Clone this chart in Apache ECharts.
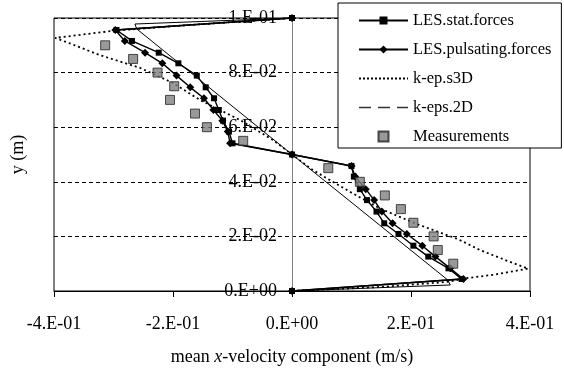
<!DOCTYPE html>
<html>
<head>
<meta charset="utf-8">
<script src="https://cdn.jsdelivr.net/npm/echarts@6/dist/echarts.min.js"></script>
<style>html,body{margin:0;padding:0;background:#fff;}#c{width:564px;height:370px;}</style>
</head>
<body>
<div id="c"></div>
<script>
// ---- data (u = mean x-velocity in m/s, y in m) ----
var lesStatY = [0, 0.0044, 0.0083, 0.0126, 0.0166, 0.0209, 0.0248, 0.0291, 0.0333, 0.0373, 0.0419, 0.0458, 0.05, 0.0541, 0.0584, 0.0624, 0.0663, 0.0706, 0.0746, 0.0789, 0.0834, 0.0873, 0.0916, 0.0956, 0.1];
var lesStatU = [0, 0.285, 0.263, 0.229, 0.204, 0.179, 0.155, 0.142, 0.126, 0.114, 0.104, 0.100, 0, -0.100, -0.106, -0.116, -0.123, -0.131, -0.145, -0.160, -0.191, -0.224, -0.269, -0.295, 0];

var lesPulsY = [0, 0.0044, 0.0083, 0.0126, 0.0166, 0.0209, 0.0248, 0.0291, 0.0333, 0.0373, 0.0419, 0.0458, 0.05, 0.0541, 0.0584, 0.0624, 0.0663, 0.0706, 0.0746, 0.0789, 0.0834, 0.0873, 0.0916, 0.0956, 0.1];
var lesPulsU = [0, 0.288, 0.266, 0.241, 0.219, 0.193, 0.169, 0.151, 0.138, 0.124, 0.106, 0.100, 0, -0.104, -0.108, -0.117, -0.132, -0.148, -0.171, -0.194, -0.218, -0.247, -0.281, -0.297, 0];

var kep3dY = [0, 0.0015, 0.0033, 0.0046, 0.006, 0.0082, 0.0107, 0.015, 0.019, 0.0245, 0.030, 0.036, 0.0443, 0.05, 0.0553, 0.0626, 0.070, 0.0762, 0.0817, 0.0864, 0.090, 0.0927, 0.0952, 0.097, 0.0985, 0.1];
var kep3dU = [0, 0.15, 0.26, 0.29, 0.34, 0.397, 0.366, 0.316, 0.279, 0.21, 0.15, 0.10, 0.035, 0, -0.032, -0.087, -0.155, -0.200, -0.255, -0.323, -0.365, -0.398, -0.305, -0.2, -0.1, 0];

var keps2dY = [0, 0.0022, 0.0040, 0.05, 0.0960, 0.0978, 0.1];
var keps2dU = [0, 0.266, 0.262, 0, -0.261, -0.264, 0];

var measY = [0.01, 0.015, 0.02, 0.025, 0.03, 0.035, 0.04, 0.045, 0.055, 0.06, 0.065, 0.07, 0.075, 0.08, 0.085, 0.09];
var measU = [0.271, 0.245, 0.238, 0.204, 0.183, 0.156, 0.114, 0.061, -0.082, -0.143, -0.163, -0.205, -0.198, -0.226, -0.267, -0.314];

var xTickLabels = ['-4.E-01', '-2.E-01', '0.E+00', '2.E-01', '4.E-01'];
var yTickLabels = ['0.E+00', '2.E-02', '4.E-02', '6.E-02', '8.E-02', '1.E-01'];

var seriesNames = ['LES.stat.forces', 'LES.pulsating.forces', 'k-ep.s3D', 'k-eps.2D', 'Measurements'];

function zip(us, ys) { var out = []; for (var i = 0; i < us.length; i++) out.push([us[i], ys[i]]); return out; }

var FONT = 'Liberation Serif';
var chart = echarts.init(document.getElementById('c'), null, {renderer: 'canvas'});
chart.setOption({
  animation: false,
  backgroundColor: '#fff',
  grid: {left: 54, right: 34, top: 18, bottom: 79, show: true, borderColor: '#000', borderWidth: 1,
    outerBoundsMode: 'none', containLabel: false},
  legend: {
    orient: 'vertical', left: 338, top: 3,
    padding: [9, 10, 3, 20], itemGap: 12, itemWidth: 49, itemHeight: 10,
    backgroundColor: '#fff', borderColor: '#000', borderWidth: 1,
    textStyle: {fontFamily: FONT, fontSize: 16.5, color: '#000'},
    data: [
      {name: seriesNames[0]},
      {name: seriesNames[1]},
      {name: seriesNames[2], itemStyle: {opacity: 0}, lineStyle: {type: [2, 2], color: '#000', width: 2}},
      {name: seriesNames[3], itemStyle: {opacity: 0}, lineStyle: {type: [12, 7], color: '#333', width: 1.3}},
      {name: seriesNames[4], icon: 'path://M0,0L10,0L10,10L0,10Z'}
    ]
  },
  xAxis: [{
    type: 'value', min: -0.4, max: 0.4, interval: 0.2,
    axisLine: {onZero: false, lineStyle: {color: '#000', width: 1}},
    axisTick: {show: true, length: 6, lineStyle: {color: '#000'}},
    axisLabel: {margin: 24, fontFamily: FONT, fontSize: 18, color: '#000',
      formatter: function (v) { return xTickLabels[Math.round((v + 0.4) / 0.2)]; }},
    splitLine: {show: false},
    name: 'mean {i|x}-velocity component (m/s)', nameLocation: 'middle', nameGap: 57,
    nameTextStyle: {fontFamily: FONT, fontSize: 18, color: '#000',
      rich: {i: {fontFamily: FONT, fontSize: 18, fontStyle: 'italic', color: '#000'}}}
  }],
  yAxis: [{
    type: 'value', min: 0, max: 0.1, interval: 0.02, position: 'left', offset: -238,
    axisLine: {onZero: false, lineStyle: {color: '#808080', width: 1}},
    axisTick: {show: false},
    axisLabel: {margin: 15, padding: [5, 0, 0, 0], fontFamily: FONT, fontSize: 18, color: '#000',
      formatter: function (v) { return yTickLabels[Math.round(v / 0.02)]; }},
    splitLine: {show: true, lineStyle: {color: '#000', type: [4, 3], width: 1}}
  }, {
    type: 'value', min: 0, max: 0.1, position: 'left',
    axisLine: {show: false, onZero: false}, axisTick: {show: false}, axisLabel: {show: false}, splitLine: {show: false},
    name: 'y (m)', nameLocation: 'middle', nameGap: 27,
    nameTextStyle: {fontFamily: FONT, fontSize: 18, color: '#000'}
  }],
  series: [
    {name: seriesNames[3], type: 'line', data: zip(keps2dU, keps2dY), showSymbol: false, symbol: 'none',
      itemStyle: {color: '#000'}, lineStyle: {color: '#000', width: 1}, z: 2},
    {name: seriesNames[2], type: 'line', data: zip(kep3dU, kep3dY), showSymbol: false, symbol: 'none',
      itemStyle: {color: '#000'}, lineStyle: {color: '#000', width: 1.8, type: [2, 3]}, z: 2},
    {name: seriesNames[0], type: 'line', data: zip(lesStatU, lesStatY), symbol: 'rect', symbolSize: 6,
      itemStyle: {color: '#000'}, lineStyle: {color: '#000', width: 1.4}, z: 3},
    {name: seriesNames[1], type: 'line', data: zip(lesPulsU, lesPulsY), symbol: 'diamond', symbolSize: 8,
      itemStyle: {color: '#000'}, lineStyle: {color: '#000', width: 1.4}, z: 3},
    {name: seriesNames[4], type: 'scatter', data: zip(measU, measY), symbol: 'rect', symbolSize: 9,
      itemStyle: {color: '#808080', borderColor: '#222', borderWidth: 1}, z: 4}
  ]
});
</script>
</body>
</html>
